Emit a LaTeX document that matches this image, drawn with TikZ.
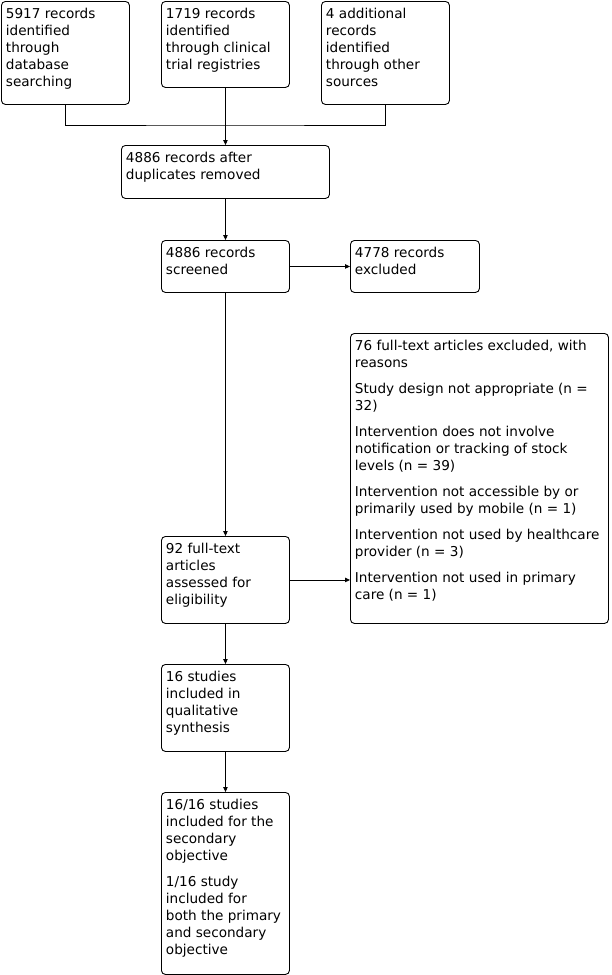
\documentclass[tikz,border=0pt]{standalone}
\usepackage{fontspec}
\setmainfont{DejaVu Sans}
\usetikzlibrary{arrows.meta}
\newcommand\flowbox[6]{%
  \node[fbox, minimum width=#4pt, minimum height=#5pt] (#1) at (#2,#3)
   {\parbox[c][#5pt][t]{\dimexpr#4pt-9pt\relax}{\raggedright\rule{0pt}{17.2pt}#6}};}
\begin{document}
\begin{tikzpicture}[x=1pt,y=-1pt,
  fbox/.style={draw, rounded corners=4pt, anchor=north west, inner xsep=4.5pt, inner ysep=0pt, line width=0.9pt,
    font=\fontsize{13.6pt}{17pt}\selectfont},
  conn/.style={line width=0.9pt},
  arr/.style={conn, -{Triangle[length=5pt,width=4.5pt]}}]
\useasboundingbox[fill=white] (0,0) rectangle (611,975);
\flowbox{b1}{1}{1}{128}{103}{5917 records\\identified\\through\\database\\searching}
\flowbox{b2}{161}{1}{128}{86}{1719 records\\identified\\through clinical\\trial registries}
\flowbox{b3}{321}{1}{128}{103}{4 additional\\records\\identified\\through other\\sources}
\flowbox{b4}{121}{145}{208}{53}{4886 records after\\duplicates removed}
\flowbox{b5}{161}{240}{128}{52}{4886 records\\screened}
\flowbox{b6}{350}{240}{129}{52}{4778 records\\excluded}
\flowbox{b7}{350}{333}{258}{290}{76 full-text articles excluded, with\\reasons\\[9pt]Study design not appropriate (n =\\32)\\[9pt]Intervention does not involve\\notification or tracking of stock\\levels (n = 39)\\[9pt]Intervention not accessible by or\\primarily used by mobile (n = 1)\\[9pt]Intervention not used by healthcare\\provider (n = 3)\\[9pt]Intervention not used in primary\\care (n = 1)}
\flowbox{b8}{161}{536}{128}{87}{92 full-text\\articles\\assessed for\\eligibility}
\flowbox{b9}{161}{664}{128}{87}{16 studies\\included in\\qualitative\\synthesis}
\flowbox{b10}{161}{792}{128}{182}{16/16 studies\\included for the\\secondary\\objective\\[9pt]1/16 study\\included for\\both the primary\\and secondary\\objective}
\coordinate (m) at (225,125);
\draw[conn] (b1.south) |- (m) -| (b3.south);
\draw[arr] (b2.south) -- (b4.north);
\draw[arr] (b4.south) -- (b5.north);
\draw[arr] (b5.east) -- (b6.west);
\draw[arr] (b5.south) -- (b8.north);
\draw[arr] (b8.east) -- (b8.east -| b7.west);
\draw[arr] (b8.south) -- (b9.north);
\draw[arr] (b9.south) -- (b10.north);
\end{tikzpicture}
\end{document}
